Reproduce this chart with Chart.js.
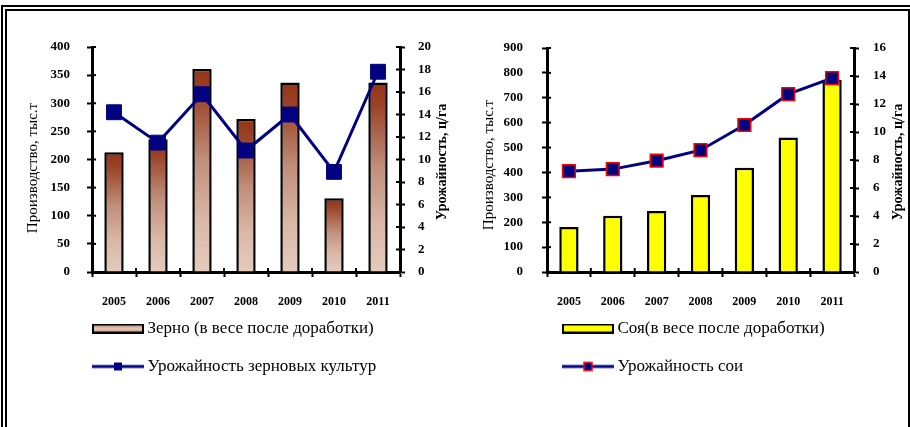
<!DOCTYPE html>
<html>
<head>
<meta charset="utf-8">
<script src="https://cdn.jsdelivr.net/npm/chart.js@4"></script>
<style>
  body { margin: 0; background: #fff; }
  #wrap { position: relative; width: 910px; height: 427px; overflow: hidden; background: #fff; }
  canvas { position: absolute; top: 0; }
  #c1 { left: 0; }
  #c2 { left: 455px; }
  .ln { position: absolute; background: #000; }
</style>
</head>
<body>
<div id="wrap">
  <canvas id="c1" width="455" height="427"></canvas>
  <canvas id="c2" width="455" height="427"></canvas>
  <!-- double frame -->
  <div class="ln" style="left:1px;top:5px;width:909px;height:2px"></div>
  <div class="ln" style="left:1px;top:5px;width:2px;height:422px"></div>
  <div class="ln" style="left:5px;top:9px;width:904px;height:1.5px"></div>
  <div class="ln" style="left:5px;top:9px;width:2px;height:418px"></div>
  <div class="ln" style="left:908px;top:9px;width:2px;height:418px"></div>
</div>
<script>
// data
const years = ['2005', '2006', '2007', '2008', '2009', '2010', '2011'];
const grainProduction = [213, 236, 361, 272, 337, 131, 337];
const grainYield = [14.2, 11.5, 15.8, 10.8, 14.0, 8.9, 17.8];
const soyProduction = [181, 226, 245, 309, 419, 540, 772];
const soyYield = [7.2, 7.35, 7.95, 8.7, 10.5, 12.7, 13.85];

const grainLabel = 'Зерно (в весе после доработки)';
const grainYieldLabel = 'Урожайность зерновых культур';
const soyLabel = 'Соя(в весе после доработки)';
const soyYieldLabel = 'Урожайность сои';
const prodTitle = 'Производство, тыс.т';
const yieldTitle = 'Урожайность, ц/га';

const serif = '"Liberation Serif", "Times New Roman", serif';
const xFont = { family: serif, size: 12, weight: 'bold' };
const yFont = { family: serif, size: 13, weight: 'bold' };
const navy = '#000080';

// brown gradient for each bar, from its own top down to the axis
function grainFill(ctx) {
  const chart = ctx.chart;
  const area = chart.chartArea;
  if (!area || ctx.type !== 'data') return '#c0907a';
  const top = chart.scales.y.getPixelForValue(ctx.raw);
  const g = chart.ctx.createLinearGradient(0, top, 0, area.bottom);
  g.addColorStop(0, '#953415');
  g.addColorStop(0.12, '#9a4227');
  g.addColorStop(0.45, '#c08f7b');
  g.addColorStop(0.75, '#dbb8a7');
  g.addColorStop(1, '#e4cbbd');
  return g;
}

function legendBar(kind) {
  const c = document.createElement('canvas');
  c.width = 52; c.height = 10;
  const g = c.getContext('2d');
  if (kind === 'grain') {
    const gr = g.createLinearGradient(0, 1, 0, 9);
    gr.addColorStop(0, '#b47660');
    gr.addColorStop(0.5, '#e6cdbf');
    gr.addColorStop(1, '#c99a86');
    g.fillStyle = gr;
  } else {
    g.fillStyle = '#ffff00';
  }
  g.fillRect(1, 1, 50, 8);
  g.strokeStyle = '#000';
  g.lineWidth = 2;
  g.strokeRect(1, 1, 50, 8);
  return c;
}

function legendLine(redBorder) {
  const c = document.createElement('canvas');
  c.width = 52; c.height = 12;
  const g = c.getContext('2d');
  g.strokeStyle = navy;
  g.lineWidth = 3;
  g.beginPath(); g.moveTo(0, 6); g.lineTo(52, 6); g.stroke();
  g.fillStyle = navy;
  g.fillRect(22, 2, 8, 8);
  if (redBorder) {
    g.strokeStyle = '#ff0000';
    g.lineWidth = 1.5;
    g.strokeRect(22, 2, 8, 8);
  }
  return c;
}

// move the legend block to where it sits in the picture
const legendPlace = {
  id: 'legendPlace',
  afterLayout(chart, args, opts) {
    const lg = chart.legend;
    if (!lg) return;
    const w = lg.right - lg.left, h = lg.bottom - lg.top;
    lg.left = opts.left; lg.right = opts.left + w;
    lg.top = opts.top; lg.bottom = opts.top + h;
  }
};

// axis titles (read bottom to top on both sides) and the inner halves of the tick marks
const axisExtras = {
  id: 'axisExtras',
  afterDraw(chart, args, opts) {
    const { ctx, chartArea: a, scales } = chart;
    ctx.save();
    ctx.strokeStyle = '#000';
    ctx.lineWidth = 2;
    ['y', 'y1'].forEach(id => {
      const s = scales[id];
      const x = id === 'y' ? a.left : a.right;
      const dir = id === 'y' ? 1 : -1;
      s.ticks.forEach((t, i) => {
        const py = s.getPixelForTick(i);
        ctx.beginPath(); ctx.moveTo(x, py); ctx.lineTo(x + dir * 4, py); ctx.stroke();
      });
    });
    const xs = scales.x;
    const n = xs.ticks.length;
    for (let i = 0; i <= n; i++) {
      const px = xs.left + i * xs.width / n;
      ctx.beginPath(); ctx.moveTo(px, a.bottom); ctx.lineTo(px, a.bottom - 4); ctx.stroke();
    }
    ctx.fillStyle = '#000';
    ctx.textAlign = 'center';
    ctx.textBaseline = 'middle';
    ctx.font = opts.leftFont;
    ctx.translate(a.left - opts.leftGap, opts.leftY);
    ctx.rotate(-Math.PI / 2);
    ctx.fillText(opts.leftTitle, 0, 0);
    ctx.setTransform(1, 0, 0, 1, 0, 0);
    ctx.font = opts.rightFont;
    ctx.translate(a.right + opts.rightGap, opts.rightY);
    ctx.rotate(-Math.PI / 2);
    ctx.fillText(opts.rightTitle, 0, 0);
    ctx.restore();
  }
};

function makeChart(el, cfg) {
  return new Chart(document.getElementById(el), {
    type: 'bar',
    data: {
      labels: years,
      datasets: [
        {
          type: 'bar',
          label: cfg.barLabel,
          data: cfg.bars,
          yAxisID: 'y',
          backgroundColor: cfg.barFill,
          borderColor: '#000',
          borderWidth: 2.5,
          barPercentage: 0.44,
          categoryPercentage: 1,
          order: 2
        },
        {
          type: 'line',
          label: cfg.lineLabel,
          data: cfg.line,
          yAxisID: 'y1',
          borderColor: navy,
          borderWidth: 3,
          tension: 0,
          pointStyle: 'rect',
          pointRadius: cfg.pointRadius,
          pointBackgroundColor: navy,
          pointBorderColor: cfg.pointBorder,
          pointBorderWidth: cfg.pointBorderWidth,
          order: 1
        }
      ]
    },
    options: {
      responsive: false,
      animation: false,
      layout: { padding: { left: 6, right: 0, top: cfg.padTop, bottom: 29 } },
      scales: {
        x: {
          grid: { drawOnChartArea: false, offset: true, tickLength: 5, tickColor: '#000', tickWidth: 2 },
          border: { color: '#000', width: 3 },
          ticks: { font: xFont, color: '#000', padding: 18, maxRotation: 0 },
          afterFit: s => { s.height = 40; }
        },
        y: {
          position: 'left',
          min: 0, max: cfg.yMax,
          grid: { drawOnChartArea: false, tickLength: 5, tickColor: '#000', tickWidth: 2 },
          border: { color: '#000', width: 3 },
          ticks: { stepSize: cfg.yStep, font: yFont, color: '#000', padding: cfg.yPad, autoSkip: false },
          afterFit: s => { s.width = 86; }
        },
        y1: {
          position: 'right',
          min: 0, max: cfg.y1Max,
          grid: { drawOnChartArea: false, tickLength: 5, tickColor: '#000', tickWidth: 2 },
          border: { color: '#000', width: 3 },
          ticks: { stepSize: 2, font: yFont, color: '#000', padding: cfg.y1Pad, autoSkip: false },
          afterFit: s => { s.width = cfg.y1Width; }
        }
      },
      plugins: {
        tooltip: { enabled: false },
        legend: {
          position: 'bottom',
          align: 'start',
          labels: {
            usePointStyle: true,
            pointStyleWidth: 42,
            padding: 21,
            color: '#000',
            font: { family: serif, size: 17 },
            generateLabels: () => [
              { text: cfg.barLabel, pointStyle: legendBar(cfg.kind), fillStyle: '#fff', strokeStyle: '#fff', lineWidth: 0, datasetIndex: 0 },
              { text: cfg.lineLabel, pointStyle: legendLine(cfg.kind === 'soy'), fillStyle: '#fff', strokeStyle: '#fff', lineWidth: 0, datasetIndex: 1 }
            ]
          }
        },
        legendPlace: { left: cfg.legendLeft, top: 299 },
        axisExtras: {
          leftTitle: prodTitle, rightTitle: yieldTitle,
          leftFont: '15px ' + serif, rightFont: 'bold 14px ' + serif,
          leftGap: cfg.leftGap, rightGap: cfg.rightGap,
          leftY: cfg.leftY, rightY: cfg.rightY
        }
      }
    },
    plugins: [legendPlace, axisExtras]
  });
}

makeChart('c1', {
  kind: 'grain',
  bars: grainProduction, line: grainYield,
  barLabel: grainLabel, lineLabel: grainYieldLabel,
  barFill: grainFill,
  pointRadius: 10.5, pointBorder: navy, pointBorderWidth: 1,
  legendLeft: 76, padTop: 47,
  yMax: 400, yStep: 50, yPad: 17,
  y1Max: 20, y1Pad: 13, y1Width: 55,
  leftGap: 59, rightGap: 42, leftY: 168, rightY: 162
});

makeChart('c2', {
  kind: 'soy',
  bars: soyProduction, line: soyYield,
  barLabel: soyLabel, lineLabel: soyYieldLabel,
  barFill: '#ffff00',
  pointRadius: 9, pointBorder: '#ff0000', pointBorderWidth: 1.5,
  legendLeft: 91, padTop: 48,
  yMax: 900, yStep: 100, yPad: 19,
  y1Max: 16, y1Pad: 14, y1Width: 56,
  leftGap: 58, rightGap: 44, leftY: 165, rightY: 162
});
</script>
</body>
</html>
